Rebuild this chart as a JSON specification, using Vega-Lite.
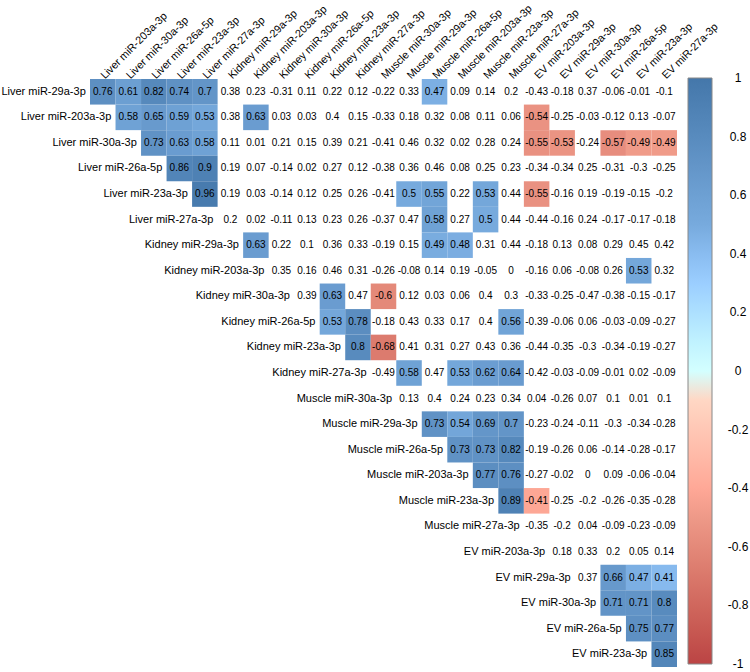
{
  "$schema": "https://vega.github.io/schema/vega-lite/v6.json",
  "autosize": {"type": "none"},
  "padding": {"left": 90, "top": 79, "right": 73, "bottom": 5},
  "width": 587,
  "height": 588,
  "config": {
    "view": {"stroke": null},
    "font": "Liberation Sans",
    "legend": {"gradientVerticalMaxLength": 1000}
  },
  "datasets": {
    "cells": [
      {"r":"Liver miR-29a-3p","c":"Liver miR-203a-3p","v":0.76,"s":1},
      {"r":"Liver miR-29a-3p","c":"Liver miR-30a-3p","v":0.61,"s":1},
      {"r":"Liver miR-29a-3p","c":"Liver miR-26a-5p","v":0.82,"s":1},
      {"r":"Liver miR-29a-3p","c":"Liver miR-23a-3p","v":0.74,"s":1},
      {"r":"Liver miR-29a-3p","c":"Liver miR-27a-3p","v":0.7,"s":1},
      {"r":"Liver miR-29a-3p","c":"Kidney miR-29a-3p","v":0.38,"s":0},
      {"r":"Liver miR-29a-3p","c":"Kidney miR-203a-3p","v":0.23,"s":0},
      {"r":"Liver miR-29a-3p","c":"Kidney miR-30a-3p","v":-0.31,"s":0},
      {"r":"Liver miR-29a-3p","c":"Kidney miR-26a-5p","v":0.11,"s":0},
      {"r":"Liver miR-29a-3p","c":"Kidney miR-23a-3p","v":0.22,"s":0},
      {"r":"Liver miR-29a-3p","c":"Kidney miR-27a-3p","v":0.12,"s":0},
      {"r":"Liver miR-29a-3p","c":"Muscle miR-30a-3p","v":-0.22,"s":0},
      {"r":"Liver miR-29a-3p","c":"Muscle miR-29a-3p","v":0.33,"s":0},
      {"r":"Liver miR-29a-3p","c":"Muscle miR-26a-5p","v":0.47,"s":1},
      {"r":"Liver miR-29a-3p","c":"Muscle miR-203a-3p","v":0.09,"s":0},
      {"r":"Liver miR-29a-3p","c":"Muscle miR-23a-3p","v":0.14,"s":0},
      {"r":"Liver miR-29a-3p","c":"Muscle miR-27a-3p","v":0.2,"s":0},
      {"r":"Liver miR-29a-3p","c":"EV miR-203a-3p","v":-0.43,"s":0},
      {"r":"Liver miR-29a-3p","c":"EV miR-29a-3p","v":-0.18,"s":0},
      {"r":"Liver miR-29a-3p","c":"EV miR-30a-3p","v":0.37,"s":0},
      {"r":"Liver miR-29a-3p","c":"EV miR-26a-5p","v":-0.06,"s":0},
      {"r":"Liver miR-29a-3p","c":"EV miR-23a-3p","v":-0.01,"s":0},
      {"r":"Liver miR-29a-3p","c":"EV miR-27a-3p","v":-0.1,"s":0},

      {"r":"Liver miR-203a-3p","c":"Liver miR-30a-3p","v":0.58,"s":1},
      {"r":"Liver miR-203a-3p","c":"Liver miR-26a-5p","v":0.65,"s":1},
      {"r":"Liver miR-203a-3p","c":"Liver miR-23a-3p","v":0.59,"s":1},
      {"r":"Liver miR-203a-3p","c":"Liver miR-27a-3p","v":0.53,"s":1},
      {"r":"Liver miR-203a-3p","c":"Kidney miR-29a-3p","v":0.38,"s":0},
      {"r":"Liver miR-203a-3p","c":"Kidney miR-203a-3p","v":0.63,"s":1},
      {"r":"Liver miR-203a-3p","c":"Kidney miR-30a-3p","v":0.03,"s":0},
      {"r":"Liver miR-203a-3p","c":"Kidney miR-26a-5p","v":0.03,"s":0},
      {"r":"Liver miR-203a-3p","c":"Kidney miR-23a-3p","v":0.4,"s":0},
      {"r":"Liver miR-203a-3p","c":"Kidney miR-27a-3p","v":0.15,"s":0},
      {"r":"Liver miR-203a-3p","c":"Muscle miR-30a-3p","v":-0.33,"s":0},
      {"r":"Liver miR-203a-3p","c":"Muscle miR-29a-3p","v":0.18,"s":0},
      {"r":"Liver miR-203a-3p","c":"Muscle miR-26a-5p","v":0.32,"s":0},
      {"r":"Liver miR-203a-3p","c":"Muscle miR-203a-3p","v":0.08,"s":0},
      {"r":"Liver miR-203a-3p","c":"Muscle miR-23a-3p","v":0.11,"s":0},
      {"r":"Liver miR-203a-3p","c":"Muscle miR-27a-3p","v":0.06,"s":0},
      {"r":"Liver miR-203a-3p","c":"EV miR-203a-3p","v":-0.54,"s":1},
      {"r":"Liver miR-203a-3p","c":"EV miR-29a-3p","v":-0.25,"s":0},
      {"r":"Liver miR-203a-3p","c":"EV miR-30a-3p","v":-0.03,"s":0},
      {"r":"Liver miR-203a-3p","c":"EV miR-26a-5p","v":-0.12,"s":0},
      {"r":"Liver miR-203a-3p","c":"EV miR-23a-3p","v":0.13,"s":0},
      {"r":"Liver miR-203a-3p","c":"EV miR-27a-3p","v":-0.07,"s":0},

      {"r":"Liver miR-30a-3p","c":"Liver miR-26a-5p","v":0.73,"s":1},
      {"r":"Liver miR-30a-3p","c":"Liver miR-23a-3p","v":0.63,"s":1},
      {"r":"Liver miR-30a-3p","c":"Liver miR-27a-3p","v":0.58,"s":1},
      {"r":"Liver miR-30a-3p","c":"Kidney miR-29a-3p","v":0.11,"s":0},
      {"r":"Liver miR-30a-3p","c":"Kidney miR-203a-3p","v":0.01,"s":0},
      {"r":"Liver miR-30a-3p","c":"Kidney miR-30a-3p","v":0.21,"s":0},
      {"r":"Liver miR-30a-3p","c":"Kidney miR-26a-5p","v":0.15,"s":0},
      {"r":"Liver miR-30a-3p","c":"Kidney miR-23a-3p","v":0.39,"s":0},
      {"r":"Liver miR-30a-3p","c":"Kidney miR-27a-3p","v":0.21,"s":0},
      {"r":"Liver miR-30a-3p","c":"Muscle miR-30a-3p","v":-0.41,"s":0},
      {"r":"Liver miR-30a-3p","c":"Muscle miR-29a-3p","v":0.46,"s":0},
      {"r":"Liver miR-30a-3p","c":"Muscle miR-26a-5p","v":0.32,"s":0},
      {"r":"Liver miR-30a-3p","c":"Muscle miR-203a-3p","v":0.02,"s":0},
      {"r":"Liver miR-30a-3p","c":"Muscle miR-23a-3p","v":0.28,"s":0},
      {"r":"Liver miR-30a-3p","c":"Muscle miR-27a-3p","v":0.24,"s":0},
      {"r":"Liver miR-30a-3p","c":"EV miR-203a-3p","v":-0.55,"s":1},
      {"r":"Liver miR-30a-3p","c":"EV miR-29a-3p","v":-0.53,"s":1},
      {"r":"Liver miR-30a-3p","c":"EV miR-30a-3p","v":-0.24,"s":0},
      {"r":"Liver miR-30a-3p","c":"EV miR-26a-5p","v":-0.57,"s":1},
      {"r":"Liver miR-30a-3p","c":"EV miR-23a-3p","v":-0.49,"s":1},
      {"r":"Liver miR-30a-3p","c":"EV miR-27a-3p","v":-0.49,"s":1},

      {"r":"Liver miR-26a-5p","c":"Liver miR-23a-3p","v":0.86,"s":1},
      {"r":"Liver miR-26a-5p","c":"Liver miR-27a-3p","v":0.9,"s":1},
      {"r":"Liver miR-26a-5p","c":"Kidney miR-29a-3p","v":0.19,"s":0},
      {"r":"Liver miR-26a-5p","c":"Kidney miR-203a-3p","v":0.07,"s":0},
      {"r":"Liver miR-26a-5p","c":"Kidney miR-30a-3p","v":-0.14,"s":0},
      {"r":"Liver miR-26a-5p","c":"Kidney miR-26a-5p","v":0.02,"s":0},
      {"r":"Liver miR-26a-5p","c":"Kidney miR-23a-3p","v":0.27,"s":0},
      {"r":"Liver miR-26a-5p","c":"Kidney miR-27a-3p","v":0.12,"s":0},
      {"r":"Liver miR-26a-5p","c":"Muscle miR-30a-3p","v":-0.38,"s":0},
      {"r":"Liver miR-26a-5p","c":"Muscle miR-29a-3p","v":0.36,"s":0},
      {"r":"Liver miR-26a-5p","c":"Muscle miR-26a-5p","v":0.46,"s":0},
      {"r":"Liver miR-26a-5p","c":"Muscle miR-203a-3p","v":0.08,"s":0},
      {"r":"Liver miR-26a-5p","c":"Muscle miR-23a-3p","v":0.25,"s":0},
      {"r":"Liver miR-26a-5p","c":"Muscle miR-27a-3p","v":0.23,"s":0},
      {"r":"Liver miR-26a-5p","c":"EV miR-203a-3p","v":-0.34,"s":0},
      {"r":"Liver miR-26a-5p","c":"EV miR-29a-3p","v":-0.34,"s":0},
      {"r":"Liver miR-26a-5p","c":"EV miR-30a-3p","v":0.25,"s":0},
      {"r":"Liver miR-26a-5p","c":"EV miR-26a-5p","v":-0.31,"s":0},
      {"r":"Liver miR-26a-5p","c":"EV miR-23a-3p","v":-0.3,"s":0},
      {"r":"Liver miR-26a-5p","c":"EV miR-27a-3p","v":-0.25,"s":0},

      {"r":"Liver miR-23a-3p","c":"Liver miR-27a-3p","v":0.96,"s":1},
      {"r":"Liver miR-23a-3p","c":"Kidney miR-29a-3p","v":0.19,"s":0},
      {"r":"Liver miR-23a-3p","c":"Kidney miR-203a-3p","v":0.03,"s":0},
      {"r":"Liver miR-23a-3p","c":"Kidney miR-30a-3p","v":-0.14,"s":0},
      {"r":"Liver miR-23a-3p","c":"Kidney miR-26a-5p","v":0.12,"s":0},
      {"r":"Liver miR-23a-3p","c":"Kidney miR-23a-3p","v":0.25,"s":0},
      {"r":"Liver miR-23a-3p","c":"Kidney miR-27a-3p","v":0.26,"s":0},
      {"r":"Liver miR-23a-3p","c":"Muscle miR-30a-3p","v":-0.41,"s":0},
      {"r":"Liver miR-23a-3p","c":"Muscle miR-29a-3p","v":0.5,"s":1},
      {"r":"Liver miR-23a-3p","c":"Muscle miR-26a-5p","v":0.55,"s":1},
      {"r":"Liver miR-23a-3p","c":"Muscle miR-203a-3p","v":0.22,"s":0},
      {"r":"Liver miR-23a-3p","c":"Muscle miR-23a-3p","v":0.53,"s":1},
      {"r":"Liver miR-23a-3p","c":"Muscle miR-27a-3p","v":0.44,"s":0},
      {"r":"Liver miR-23a-3p","c":"EV miR-203a-3p","v":-0.55,"s":1},
      {"r":"Liver miR-23a-3p","c":"EV miR-29a-3p","v":-0.16,"s":0},
      {"r":"Liver miR-23a-3p","c":"EV miR-30a-3p","v":0.19,"s":0},
      {"r":"Liver miR-23a-3p","c":"EV miR-26a-5p","v":-0.19,"s":0},
      {"r":"Liver miR-23a-3p","c":"EV miR-23a-3p","v":-0.15,"s":0},
      {"r":"Liver miR-23a-3p","c":"EV miR-27a-3p","v":-0.2,"s":0},

      {"r":"Liver miR-27a-3p","c":"Kidney miR-29a-3p","v":0.2,"s":0},
      {"r":"Liver miR-27a-3p","c":"Kidney miR-203a-3p","v":0.02,"s":0},
      {"r":"Liver miR-27a-3p","c":"Kidney miR-30a-3p","v":-0.11,"s":0},
      {"r":"Liver miR-27a-3p","c":"Kidney miR-26a-5p","v":0.13,"s":0},
      {"r":"Liver miR-27a-3p","c":"Kidney miR-23a-3p","v":0.23,"s":0},
      {"r":"Liver miR-27a-3p","c":"Kidney miR-27a-3p","v":0.26,"s":0},
      {"r":"Liver miR-27a-3p","c":"Muscle miR-30a-3p","v":-0.37,"s":0},
      {"r":"Liver miR-27a-3p","c":"Muscle miR-29a-3p","v":0.47,"s":0},
      {"r":"Liver miR-27a-3p","c":"Muscle miR-26a-5p","v":0.58,"s":1},
      {"r":"Liver miR-27a-3p","c":"Muscle miR-203a-3p","v":0.27,"s":0},
      {"r":"Liver miR-27a-3p","c":"Muscle miR-23a-3p","v":0.5,"s":1},
      {"r":"Liver miR-27a-3p","c":"Muscle miR-27a-3p","v":0.44,"s":0},
      {"r":"Liver miR-27a-3p","c":"EV miR-203a-3p","v":-0.44,"s":0},
      {"r":"Liver miR-27a-3p","c":"EV miR-29a-3p","v":-0.16,"s":0},
      {"r":"Liver miR-27a-3p","c":"EV miR-30a-3p","v":0.24,"s":0},
      {"r":"Liver miR-27a-3p","c":"EV miR-26a-5p","v":-0.17,"s":0},
      {"r":"Liver miR-27a-3p","c":"EV miR-23a-3p","v":-0.17,"s":0},
      {"r":"Liver miR-27a-3p","c":"EV miR-27a-3p","v":-0.18,"s":0},

      {"r":"Kidney miR-29a-3p","c":"Kidney miR-203a-3p","v":0.63,"s":1},
      {"r":"Kidney miR-29a-3p","c":"Kidney miR-30a-3p","v":0.22,"s":0},
      {"r":"Kidney miR-29a-3p","c":"Kidney miR-26a-5p","v":0.1,"s":0},
      {"r":"Kidney miR-29a-3p","c":"Kidney miR-23a-3p","v":0.36,"s":0},
      {"r":"Kidney miR-29a-3p","c":"Kidney miR-27a-3p","v":0.33,"s":0},
      {"r":"Kidney miR-29a-3p","c":"Muscle miR-30a-3p","v":-0.19,"s":0},
      {"r":"Kidney miR-29a-3p","c":"Muscle miR-29a-3p","v":0.15,"s":0},
      {"r":"Kidney miR-29a-3p","c":"Muscle miR-26a-5p","v":0.49,"s":1},
      {"r":"Kidney miR-29a-3p","c":"Muscle miR-203a-3p","v":0.48,"s":1},
      {"r":"Kidney miR-29a-3p","c":"Muscle miR-23a-3p","v":0.31,"s":0},
      {"r":"Kidney miR-29a-3p","c":"Muscle miR-27a-3p","v":0.44,"s":0},
      {"r":"Kidney miR-29a-3p","c":"EV miR-203a-3p","v":-0.18,"s":0},
      {"r":"Kidney miR-29a-3p","c":"EV miR-29a-3p","v":0.13,"s":0},
      {"r":"Kidney miR-29a-3p","c":"EV miR-30a-3p","v":0.08,"s":0},
      {"r":"Kidney miR-29a-3p","c":"EV miR-26a-5p","v":0.29,"s":0},
      {"r":"Kidney miR-29a-3p","c":"EV miR-23a-3p","v":0.45,"s":0},
      {"r":"Kidney miR-29a-3p","c":"EV miR-27a-3p","v":0.42,"s":0},

      {"r":"Kidney miR-203a-3p","c":"Kidney miR-30a-3p","v":0.35,"s":0},
      {"r":"Kidney miR-203a-3p","c":"Kidney miR-26a-5p","v":0.16,"s":0},
      {"r":"Kidney miR-203a-3p","c":"Kidney miR-23a-3p","v":0.46,"s":0},
      {"r":"Kidney miR-203a-3p","c":"Kidney miR-27a-3p","v":0.31,"s":0},
      {"r":"Kidney miR-203a-3p","c":"Muscle miR-30a-3p","v":-0.26,"s":0},
      {"r":"Kidney miR-203a-3p","c":"Muscle miR-29a-3p","v":-0.08,"s":0},
      {"r":"Kidney miR-203a-3p","c":"Muscle miR-26a-5p","v":0.14,"s":0},
      {"r":"Kidney miR-203a-3p","c":"Muscle miR-203a-3p","v":0.19,"s":0},
      {"r":"Kidney miR-203a-3p","c":"Muscle miR-23a-3p","v":-0.05,"s":0},
      {"r":"Kidney miR-203a-3p","c":"Muscle miR-27a-3p","v":0,"s":0},
      {"r":"Kidney miR-203a-3p","c":"EV miR-203a-3p","v":-0.16,"s":0},
      {"r":"Kidney miR-203a-3p","c":"EV miR-29a-3p","v":0.06,"s":0},
      {"r":"Kidney miR-203a-3p","c":"EV miR-30a-3p","v":-0.08,"s":0},
      {"r":"Kidney miR-203a-3p","c":"EV miR-26a-5p","v":0.26,"s":0},
      {"r":"Kidney miR-203a-3p","c":"EV miR-23a-3p","v":0.53,"s":1},
      {"r":"Kidney miR-203a-3p","c":"EV miR-27a-3p","v":0.32,"s":0},

      {"r":"Kidney miR-30a-3p","c":"Kidney miR-26a-5p","v":0.39,"s":0},
      {"r":"Kidney miR-30a-3p","c":"Kidney miR-23a-3p","v":0.63,"s":1},
      {"r":"Kidney miR-30a-3p","c":"Kidney miR-27a-3p","v":0.47,"s":0},
      {"r":"Kidney miR-30a-3p","c":"Muscle miR-30a-3p","v":-0.6,"s":1},
      {"r":"Kidney miR-30a-3p","c":"Muscle miR-29a-3p","v":0.12,"s":0},
      {"r":"Kidney miR-30a-3p","c":"Muscle miR-26a-5p","v":0.03,"s":0},
      {"r":"Kidney miR-30a-3p","c":"Muscle miR-203a-3p","v":0.06,"s":0},
      {"r":"Kidney miR-30a-3p","c":"Muscle miR-23a-3p","v":0.4,"s":0},
      {"r":"Kidney miR-30a-3p","c":"Muscle miR-27a-3p","v":0.3,"s":0},
      {"r":"Kidney miR-30a-3p","c":"EV miR-203a-3p","v":-0.33,"s":0},
      {"r":"Kidney miR-30a-3p","c":"EV miR-29a-3p","v":-0.25,"s":0},
      {"r":"Kidney miR-30a-3p","c":"EV miR-30a-3p","v":-0.47,"s":0},
      {"r":"Kidney miR-30a-3p","c":"EV miR-26a-5p","v":-0.38,"s":0},
      {"r":"Kidney miR-30a-3p","c":"EV miR-23a-3p","v":-0.15,"s":0},
      {"r":"Kidney miR-30a-3p","c":"EV miR-27a-3p","v":-0.17,"s":0},

      {"r":"Kidney miR-26a-5p","c":"Kidney miR-23a-3p","v":0.53,"s":1},
      {"r":"Kidney miR-26a-5p","c":"Kidney miR-27a-3p","v":0.78,"s":1},
      {"r":"Kidney miR-26a-5p","c":"Muscle miR-30a-3p","v":-0.18,"s":0},
      {"r":"Kidney miR-26a-5p","c":"Muscle miR-29a-3p","v":0.43,"s":0},
      {"r":"Kidney miR-26a-5p","c":"Muscle miR-26a-5p","v":0.33,"s":0},
      {"r":"Kidney miR-26a-5p","c":"Muscle miR-203a-3p","v":0.17,"s":0},
      {"r":"Kidney miR-26a-5p","c":"Muscle miR-23a-3p","v":0.4,"s":0},
      {"r":"Kidney miR-26a-5p","c":"Muscle miR-27a-3p","v":0.56,"s":1},
      {"r":"Kidney miR-26a-5p","c":"EV miR-203a-3p","v":-0.39,"s":0},
      {"r":"Kidney miR-26a-5p","c":"EV miR-29a-3p","v":-0.06,"s":0},
      {"r":"Kidney miR-26a-5p","c":"EV miR-30a-3p","v":0.06,"s":0},
      {"r":"Kidney miR-26a-5p","c":"EV miR-26a-5p","v":-0.03,"s":0},
      {"r":"Kidney miR-26a-5p","c":"EV miR-23a-3p","v":-0.09,"s":0},
      {"r":"Kidney miR-26a-5p","c":"EV miR-27a-3p","v":-0.27,"s":0},

      {"r":"Kidney miR-23a-3p","c":"Kidney miR-27a-3p","v":0.8,"s":1},
      {"r":"Kidney miR-23a-3p","c":"Muscle miR-30a-3p","v":-0.68,"s":1},
      {"r":"Kidney miR-23a-3p","c":"Muscle miR-29a-3p","v":0.41,"s":0},
      {"r":"Kidney miR-23a-3p","c":"Muscle miR-26a-5p","v":0.31,"s":0},
      {"r":"Kidney miR-23a-3p","c":"Muscle miR-203a-3p","v":0.27,"s":0},
      {"r":"Kidney miR-23a-3p","c":"Muscle miR-23a-3p","v":0.43,"s":0},
      {"r":"Kidney miR-23a-3p","c":"Muscle miR-27a-3p","v":0.36,"s":0},
      {"r":"Kidney miR-23a-3p","c":"EV miR-203a-3p","v":-0.44,"s":0},
      {"r":"Kidney miR-23a-3p","c":"EV miR-29a-3p","v":-0.35,"s":0},
      {"r":"Kidney miR-23a-3p","c":"EV miR-30a-3p","v":-0.3,"s":0},
      {"r":"Kidney miR-23a-3p","c":"EV miR-26a-5p","v":-0.34,"s":0},
      {"r":"Kidney miR-23a-3p","c":"EV miR-23a-3p","v":-0.19,"s":0},
      {"r":"Kidney miR-23a-3p","c":"EV miR-27a-3p","v":-0.27,"s":0},

      {"r":"Kidney miR-27a-3p","c":"Muscle miR-30a-3p","v":-0.49,"s":0},
      {"r":"Kidney miR-27a-3p","c":"Muscle miR-29a-3p","v":0.58,"s":1},
      {"r":"Kidney miR-27a-3p","c":"Muscle miR-26a-5p","v":0.47,"s":0},
      {"r":"Kidney miR-27a-3p","c":"Muscle miR-203a-3p","v":0.53,"s":1},
      {"r":"Kidney miR-27a-3p","c":"Muscle miR-23a-3p","v":0.62,"s":1},
      {"r":"Kidney miR-27a-3p","c":"Muscle miR-27a-3p","v":0.64,"s":1},
      {"r":"Kidney miR-27a-3p","c":"EV miR-203a-3p","v":-0.42,"s":0},
      {"r":"Kidney miR-27a-3p","c":"EV miR-29a-3p","v":-0.03,"s":0},
      {"r":"Kidney miR-27a-3p","c":"EV miR-30a-3p","v":-0.09,"s":0},
      {"r":"Kidney miR-27a-3p","c":"EV miR-26a-5p","v":-0.01,"s":0},
      {"r":"Kidney miR-27a-3p","c":"EV miR-23a-3p","v":0.02,"s":0},
      {"r":"Kidney miR-27a-3p","c":"EV miR-27a-3p","v":-0.09,"s":0},

      {"r":"Muscle miR-30a-3p","c":"Muscle miR-29a-3p","v":0.13,"s":0},
      {"r":"Muscle miR-30a-3p","c":"Muscle miR-26a-5p","v":0.4,"s":0},
      {"r":"Muscle miR-30a-3p","c":"Muscle miR-203a-3p","v":0.24,"s":0},
      {"r":"Muscle miR-30a-3p","c":"Muscle miR-23a-3p","v":0.23,"s":0},
      {"r":"Muscle miR-30a-3p","c":"Muscle miR-27a-3p","v":0.34,"s":0},
      {"r":"Muscle miR-30a-3p","c":"EV miR-203a-3p","v":0.04,"s":0},
      {"r":"Muscle miR-30a-3p","c":"EV miR-29a-3p","v":-0.26,"s":0},
      {"r":"Muscle miR-30a-3p","c":"EV miR-30a-3p","v":0.07,"s":0},
      {"r":"Muscle miR-30a-3p","c":"EV miR-26a-5p","v":0.1,"s":0},
      {"r":"Muscle miR-30a-3p","c":"EV miR-23a-3p","v":0.01,"s":0},
      {"r":"Muscle miR-30a-3p","c":"EV miR-27a-3p","v":0.1,"s":0},

      {"r":"Muscle miR-29a-3p","c":"Muscle miR-26a-5p","v":0.73,"s":1},
      {"r":"Muscle miR-29a-3p","c":"Muscle miR-203a-3p","v":0.54,"s":1},
      {"r":"Muscle miR-29a-3p","c":"Muscle miR-23a-3p","v":0.69,"s":1},
      {"r":"Muscle miR-29a-3p","c":"Muscle miR-27a-3p","v":0.7,"s":1},
      {"r":"Muscle miR-29a-3p","c":"EV miR-203a-3p","v":-0.23,"s":0},
      {"r":"Muscle miR-29a-3p","c":"EV miR-29a-3p","v":-0.24,"s":0},
      {"r":"Muscle miR-29a-3p","c":"EV miR-30a-3p","v":-0.11,"s":0},
      {"r":"Muscle miR-29a-3p","c":"EV miR-26a-5p","v":-0.3,"s":0},
      {"r":"Muscle miR-29a-3p","c":"EV miR-23a-3p","v":-0.34,"s":0},
      {"r":"Muscle miR-29a-3p","c":"EV miR-27a-3p","v":-0.28,"s":0},

      {"r":"Muscle miR-26a-5p","c":"Muscle miR-203a-3p","v":0.73,"s":1},
      {"r":"Muscle miR-26a-5p","c":"Muscle miR-23a-3p","v":0.73,"s":1},
      {"r":"Muscle miR-26a-5p","c":"Muscle miR-27a-3p","v":0.82,"s":1},
      {"r":"Muscle miR-26a-5p","c":"EV miR-203a-3p","v":-0.19,"s":0},
      {"r":"Muscle miR-26a-5p","c":"EV miR-29a-3p","v":-0.26,"s":0},
      {"r":"Muscle miR-26a-5p","c":"EV miR-30a-3p","v":0.06,"s":0},
      {"r":"Muscle miR-26a-5p","c":"EV miR-26a-5p","v":-0.14,"s":0},
      {"r":"Muscle miR-26a-5p","c":"EV miR-23a-3p","v":-0.28,"s":0},
      {"r":"Muscle miR-26a-5p","c":"EV miR-27a-3p","v":-0.17,"s":0},

      {"r":"Muscle miR-203a-3p","c":"Muscle miR-23a-3p","v":0.77,"s":1},
      {"r":"Muscle miR-203a-3p","c":"Muscle miR-27a-3p","v":0.76,"s":1},
      {"r":"Muscle miR-203a-3p","c":"EV miR-203a-3p","v":-0.27,"s":0},
      {"r":"Muscle miR-203a-3p","c":"EV miR-29a-3p","v":-0.02,"s":0},
      {"r":"Muscle miR-203a-3p","c":"EV miR-30a-3p","v":0,"s":0},
      {"r":"Muscle miR-203a-3p","c":"EV miR-26a-5p","v":0.09,"s":0},
      {"r":"Muscle miR-203a-3p","c":"EV miR-23a-3p","v":-0.06,"s":0},
      {"r":"Muscle miR-203a-3p","c":"EV miR-27a-3p","v":-0.04,"s":0},

      {"r":"Muscle miR-23a-3p","c":"Muscle miR-27a-3p","v":0.89,"s":1},
      {"r":"Muscle miR-23a-3p","c":"EV miR-203a-3p","v":-0.41,"s":1},
      {"r":"Muscle miR-23a-3p","c":"EV miR-29a-3p","v":-0.25,"s":0},
      {"r":"Muscle miR-23a-3p","c":"EV miR-30a-3p","v":-0.2,"s":0},
      {"r":"Muscle miR-23a-3p","c":"EV miR-26a-5p","v":-0.26,"s":0},
      {"r":"Muscle miR-23a-3p","c":"EV miR-23a-3p","v":-0.35,"s":0},
      {"r":"Muscle miR-23a-3p","c":"EV miR-27a-3p","v":-0.28,"s":0},

      {"r":"Muscle miR-27a-3p","c":"EV miR-203a-3p","v":-0.35,"s":0},
      {"r":"Muscle miR-27a-3p","c":"EV miR-29a-3p","v":-0.2,"s":0},
      {"r":"Muscle miR-27a-3p","c":"EV miR-30a-3p","v":0.04,"s":0},
      {"r":"Muscle miR-27a-3p","c":"EV miR-26a-5p","v":-0.09,"s":0},
      {"r":"Muscle miR-27a-3p","c":"EV miR-23a-3p","v":-0.23,"s":0},
      {"r":"Muscle miR-27a-3p","c":"EV miR-27a-3p","v":-0.09,"s":0},

      {"r":"EV miR-203a-3p","c":"EV miR-29a-3p","v":0.18,"s":0},
      {"r":"EV miR-203a-3p","c":"EV miR-30a-3p","v":0.33,"s":0},
      {"r":"EV miR-203a-3p","c":"EV miR-26a-5p","v":0.2,"s":0},
      {"r":"EV miR-203a-3p","c":"EV miR-23a-3p","v":0.05,"s":0},
      {"r":"EV miR-203a-3p","c":"EV miR-27a-3p","v":0.14,"s":0},

      {"r":"EV miR-29a-3p","c":"EV miR-30a-3p","v":0.37,"s":0},
      {"r":"EV miR-29a-3p","c":"EV miR-26a-5p","v":0.66,"s":1},
      {"r":"EV miR-29a-3p","c":"EV miR-23a-3p","v":0.47,"s":1},
      {"r":"EV miR-29a-3p","c":"EV miR-27a-3p","v":0.41,"s":1},

      {"r":"EV miR-30a-3p","c":"EV miR-26a-5p","v":0.71,"s":1},
      {"r":"EV miR-30a-3p","c":"EV miR-23a-3p","v":0.71,"s":1},
      {"r":"EV miR-30a-3p","c":"EV miR-27a-3p","v":0.8,"s":1},

      {"r":"EV miR-26a-5p","c":"EV miR-23a-3p","v":0.75,"s":1},
      {"r":"EV miR-26a-5p","c":"EV miR-27a-3p","v":0.77,"s":1},

      {"r":"EV miR-23a-3p","c":"EV miR-27a-3p","v":0.85,"s":1}
    ],
    "labels": [
      {"r":"Liver miR-29a-3p","c":"Liver miR-203a-3p"},
      {"r":"Liver miR-203a-3p","c":"Liver miR-30a-3p"},
      {"r":"Liver miR-30a-3p","c":"Liver miR-26a-5p"},
      {"r":"Liver miR-26a-5p","c":"Liver miR-23a-3p"},
      {"r":"Liver miR-23a-3p","c":"Liver miR-27a-3p"},
      {"r":"Liver miR-27a-3p","c":"Kidney miR-29a-3p"},
      {"r":"Kidney miR-29a-3p","c":"Kidney miR-203a-3p"},
      {"r":"Kidney miR-203a-3p","c":"Kidney miR-30a-3p"},
      {"r":"Kidney miR-30a-3p","c":"Kidney miR-26a-5p"},
      {"r":"Kidney miR-26a-5p","c":"Kidney miR-23a-3p"},
      {"r":"Kidney miR-23a-3p","c":"Kidney miR-27a-3p"},
      {"r":"Kidney miR-27a-3p","c":"Muscle miR-30a-3p"},
      {"r":"Muscle miR-30a-3p","c":"Muscle miR-29a-3p"},
      {"r":"Muscle miR-29a-3p","c":"Muscle miR-26a-5p"},
      {"r":"Muscle miR-26a-5p","c":"Muscle miR-203a-3p"},
      {"r":"Muscle miR-203a-3p","c":"Muscle miR-23a-3p"},
      {"r":"Muscle miR-23a-3p","c":"Muscle miR-27a-3p"},
      {"r":"Muscle miR-27a-3p","c":"EV miR-203a-3p"},
      {"r":"EV miR-203a-3p","c":"EV miR-29a-3p"},
      {"r":"EV miR-29a-3p","c":"EV miR-30a-3p"},
      {"r":"EV miR-30a-3p","c":"EV miR-26a-5p"},
      {"r":"EV miR-26a-5p","c":"EV miR-23a-3p"},
      {"r":"EV miR-23a-3p","c":"EV miR-27a-3p"}
    ]
  },
  "encoding": {
    "x": {
      "field": "c", "type": "nominal",
      "scale": {
        "domain": ["Liver miR-203a-3p","Liver miR-30a-3p","Liver miR-26a-5p","Liver miR-23a-3p","Liver miR-27a-3p","Kidney miR-29a-3p","Kidney miR-203a-3p","Kidney miR-30a-3p","Kidney miR-26a-5p","Kidney miR-23a-3p","Kidney miR-27a-3p","Muscle miR-30a-3p","Muscle miR-29a-3p","Muscle miR-26a-5p","Muscle miR-203a-3p","Muscle miR-23a-3p","Muscle miR-27a-3p","EV miR-203a-3p","EV miR-29a-3p","EV miR-30a-3p","EV miR-26a-5p","EV miR-23a-3p","EV miR-27a-3p"],
        "paddingInner": 0, "paddingOuter": 0
      },
      "axis": {
        "orient": "top", "title": null, "domain": false, "ticks": false,
        "labelAngle": -45, "labelAlign": "left", "labelBaseline": "middle",
        "labelPadding": 2, "labelFontSize": 10.8, "labelFont": "Liberation Sans",
        "labelColor": "black", "labelOverlap": false, "labelLimit": 0
      }
    },
    "y": {
      "field": "r", "type": "nominal",
      "scale": {
        "domain": ["Liver miR-29a-3p","Liver miR-203a-3p","Liver miR-30a-3p","Liver miR-26a-5p","Liver miR-23a-3p","Liver miR-27a-3p","Kidney miR-29a-3p","Kidney miR-203a-3p","Kidney miR-30a-3p","Kidney miR-26a-5p","Kidney miR-23a-3p","Kidney miR-27a-3p","Muscle miR-30a-3p","Muscle miR-29a-3p","Muscle miR-26a-5p","Muscle miR-203a-3p","Muscle miR-23a-3p","Muscle miR-27a-3p","EV miR-203a-3p","EV miR-29a-3p","EV miR-30a-3p","EV miR-26a-5p","EV miR-23a-3p"],
        "paddingInner": 0, "paddingOuter": 0
      },
      "axis": null
    }
  },
  "layer": [
    {
      "data": {"name": "cells"},
      "transform": [{"filter": "datum.s == 1"}],
      "mark": {"type": "rect", "strokeWidth": 0},
      "encoding": {
        "color": {
          "field": "v", "type": "quantitative",
          "scale": {
            "domain": [-1, -0.5, 0, 0.5, 1],
            "range": ["#BB4444", "#EE9988", "#FFFFFF", "#77AADD", "#4477AA"]
          },
          "legend": {
            "orient": "none", "legendX": 598, "legendY": -1,
            "direction": "vertical", "title": null,
            "gradientLength": 586, "gradientThickness": 24,
            "gradientStrokeColor": "#888888", "gradientStrokeWidth": 1,
            "values": [-1, -0.8, -0.6, -0.4, -0.2, 0, 0.2, 0.4, 0.6, 0.8, 1],
            "labelExpr": "'' + datum.value",
            "labelFontSize": 12, "labelFont": "Liberation Sans", "labelColor": "black",
            "labelOffset": 26, "labelOverlap": false, "labelAlign": "center",
            "padding": 0,
            "encode": {
              "labels": {
                "update": {
                  "baseline": {"value": "middle"},
                  "align": {"value": "center"}
                }
              }
            }
          }
        }
      }
    },
    {
      "data": {"name": "cells"},
      "mark": {"type": "text", "fontSize": 10, "font": "Liberation Sans", "color": "black"},
      "encoding": {
        "text": {"field": "v", "type": "nominal"}
      }
    },
    {
      "data": {"name": "labels"},
      "mark": {"type": "text", "fontSize": 11, "font": "Liberation Sans", "color": "black", "align": "right", "dx": -17},
      "encoding": {
        "text": {"field": "r", "type": "nominal"}
      }
    }
  ]
}
